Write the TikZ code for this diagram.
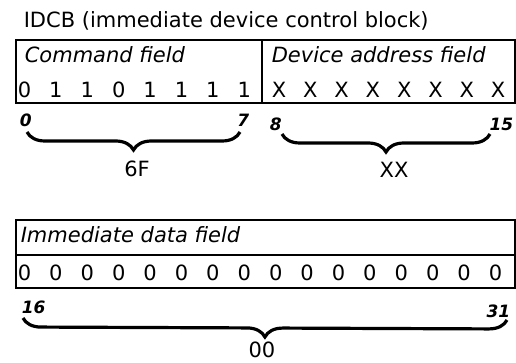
\documentclass[tikz,border=0pt]{standalone}
\usepackage{fontspec}
\setmainfont{DejaVu Sans}
\usetikzlibrary{decorations.pathreplacing}
\begin{document}
\begin{tikzpicture}[x=1pt,y=-1pt,line width=1.6pt,
  lbl/.style={inner sep=0pt,anchor=base west,font=\fontsize{21}{25}\selectfont},
  fld/.style={inner sep=0pt,anchor=base west,font=\fontsize{21}{25}\selectfont\itshape},
  bit/.style={inner sep=0pt,anchor=base,font=\fontsize{21}{25}\selectfont},
  idx/.style={inner sep=0pt,font=\fontsize{17}{20}\selectfont\bfseries\itshape},
  val/.style={inner sep=0pt,anchor=base,font=\fontsize{21}{25}\selectfont},
  brc/.style={decorate,decoration={brace,mirror,amplitude=18pt},line width=3.2pt}]
\useasboundingbox (0,0) rectangle (516,363);
% title
\node[lbl] (title) at (23,28) {IDCB (immediate device control block)};
% top box
\draw (16,40) rectangle (515,103);
\draw (262,40) -- (262,103);
\node[fld] (cmd) at (24,63) {Command field};
\node[fld] (dev) at (271,63) {Device address field};
\foreach \b [count=\i from 0] in {0,1,1,0,1,1,1,1}
  \node[bit] (tb\i) at (24.5+31.4*\i,98) {\b};
\foreach \i in {8,...,15}
  \node[bit] (tb\i) at (279+31.3*\i-250.4,98) {X};
\node[idx,anchor=base west] (i0) at (19,127) {0};
\node[idx,anchor=base east] (i7) at (250,127) {7};
\node[idx,anchor=base west] (i8) at (269,131) {8};
\node[idx,anchor=base east] (i15) at (514,131) {15};
\coordinate (b1l) at (27,132);
\coordinate (b1r) at (240,132);
\coordinate (b2l) at (282,134);
\coordinate (b2r) at (490,134);
\draw[brc] (b1l) -- (b1r);
\draw[brc] (b2l) -- (b2r);
\node[val] (v6f) at (137,177) {6F};
\node[val] (vxx) at (394,178) {XX};
% bottom box
\draw (16,220) rectangle (515,288);
\draw (16,255) -- (515,255);
\node[fld] (imm) at (20,243) {Immediate data field};
\foreach \i in {0,...,15}
  \node[bit] (bb\i) at (24.5+31.4*\i,280) {0};
\node[idx,anchor=base west] (i16) at (21,313) {16};
\node[idx,anchor=base east] (i31) at (511,317) {31};
\coordinate (b3l) at (23,318);
\coordinate (b3r) at (507,320);
\draw[brc] (b3l) -- (b3r);
\node[val] (v00) at (262,357) {00};
\end{tikzpicture}
\end{document}
